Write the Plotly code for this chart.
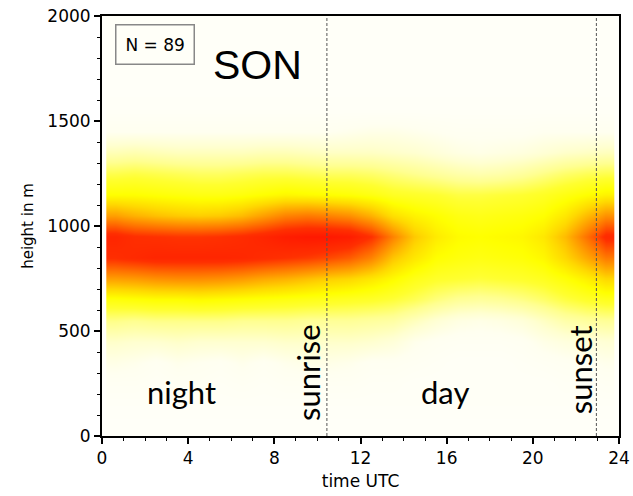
import numpy as np
import plotly.graph_objects as go

# Hourly time bins (UTC) and 100 m height bins
time_edges = [0.2] + list(range(1, 24)) + [23.8]
height_edges = list(range(0, 2001, 100))

# Occurrence density per height bin (rows, low to high), one value per hour 0..23
dens_50 = [0.0] * 24
dens_150 = [0.1] * 24
dens_250 = [0.3, 0.3, 0.2, 0.3, 0.3, 0.2, 0.3, 0.2, 0.3, 0.3, 0.3, 0.3, 0.2, 0.2, 0.1, 0.1, 0.1, 0.1, 0.1, 0.1, 0.1, 0.2, 0.2, 0.3]
dens_350 = [0.7, 0.6, 0.4, 0.6, 0.5, 0.4, 0.6, 0.4, 0.6, 0.7, 0.7, 0.6, 0.4, 0.4, 0.3, 0.2, 0.1, 0.1, 0.1, 0.2, 0.3, 0.4, 0.5, 0.6]
dens_450 = [1.3, 1.2, 1.2, 1.3, 1.2, 1.2, 1.2, 1.2, 1.3, 1.3, 1.3, 1.3, 1.2, 1.0, 0.6, 0.4, 0.3, 0.3, 0.3, 0.4, 0.7, 0.9, 1.0, 1.1]
dens_550 = [2.3, 2.2, 2.3, 2.3, 2.3, 2.3, 2.2, 2.2, 2.2, 2.1, 2.1, 2.1, 2.0, 1.9, 1.5, 1.1, 0.8, 0.7, 0.8, 1.0, 1.4, 1.8, 2.0, 2.1]
dens_650 = [3.8, 3.9, 4.0, 4.0, 4.1, 4.0, 3.9, 3.8, 3.7, 3.6, 3.5, 3.4, 3.3, 3.1, 2.8, 2.4, 2.1, 2.0, 2.1, 2.3, 2.6, 3.0, 3.3, 3.5]
dens_750 = [6.2, 6.3, 6.5, 6.6, 6.6, 6.5, 6.3, 6.0, 5.8, 5.5, 5.2, 5.0, 4.6, 4.1, 3.6, 3.3, 3.2, 3.1, 3.2, 3.3, 3.5, 3.9, 4.4, 5.0]
dens_850 = [8.6, 8.8, 9.0, 9.0, 9.0, 9.0, 8.9, 8.7, 8.5, 8.3, 8.0, 7.6, 6.8, 5.4, 4.6, 4.0, 3.8, 3.7, 3.8, 3.9, 4.2, 5.0, 6.0, 7.0]
dens_950 = [9.0, 8.6, 8.5, 8.4, 8.4, 8.5, 8.7, 9.0, 9.4, 9.6, 9.6, 9.4, 8.5, 6.8, 5.3, 4.5, 4.1, 4.0, 4.1, 4.2, 4.6, 5.6, 7.2, 8.8]
dens_1050 = [6.2, 5.8, 5.5, 5.3, 5.2, 5.3, 5.6, 6.2, 6.8, 7.0, 6.8, 6.5, 5.8, 4.8, 4.3, 4.0, 3.7, 3.6, 3.7, 3.8, 4.0, 4.6, 5.6, 6.5]
dens_1150 = [4.0, 4.0, 3.9, 3.8, 3.7, 3.7, 3.8, 4.0, 4.2, 4.1, 4.0, 3.9, 3.7, 3.4, 3.3, 3.2, 3.0, 3.0, 3.1, 3.2, 3.4, 3.7, 4.0, 4.3]
dens_1250 = [2.9, 3.0, 2.9, 2.8, 2.7, 2.7, 2.8, 2.9, 2.9, 2.8, 2.7, 2.7, 2.6, 2.4, 2.2, 2.0, 1.8, 1.7, 1.8, 2.0, 2.3, 2.6, 2.8, 2.9]
dens_1350 = [1.6, 1.7, 1.6, 1.5, 1.5, 1.5, 1.5, 1.6, 1.6, 1.5, 1.4, 1.4, 1.4, 1.3, 1.2, 1.0, 0.8, 0.7, 0.8, 0.9, 1.1, 1.3, 1.4, 1.5]
dens_1450 = [0.5, 0.5, 0.5, 0.5, 0.5, 0.5, 0.5, 0.5, 0.5, 0.5, 0.5, 0.6, 0.7, 0.7, 0.6, 0.5, 0.4, 0.4, 0.4, 0.4, 0.5, 0.5, 0.5, 0.5]
dens_1550 = [0.1] * 24
dens_1650 = [0.0] * 24
dens_1750 = [0.0] * 24
dens_1850 = [0.0] * 24
dens_1950 = [0.0] * 24

z = np.array([
    dens_50, dens_150, dens_250, dens_350, dens_450, dens_550, dens_650,
    dens_750, dens_850, dens_950, dens_1050, dens_1150, dens_1250, dens_1350,
    dens_1450, dens_1550, dens_1650, dens_1750, dens_1850, dens_1950,
])

sunrise = 10.44
sunset = 22.95
n_days = 89
season = "SON"

colorscale = [
    [0.00, "#fffff8"],
    [0.05, "#fffff0"],
    [0.12, "#ffffd0"],
    [0.22, "#ffff90"],
    [0.32, "#ffff30"],
    [0.40, "#ffff00"],
    [0.50, "#ffd800"],
    [0.60, "#ffa800"],
    [0.72, "#ff7000"],
    [0.85, "#ff3000"],
    [1.00, "#ff1000"],
]

fig = go.Figure(go.Heatmap(
    x=time_edges, y=height_edges, z=z,
    zmin=0, zmax=10, zsmooth="best",
    colorscale=colorscale, showscale=False, hoverinfo="skip",
))

for t in (sunrise, sunset):
    fig.add_shape(type="line", x0=t, x1=t, y0=0, y1=1, xref="x", yref="paper",
                  line=dict(color="#555555", width=1, dash="3px,2px"))

label_font = dict(family="Lato, Open Sans, sans-serif", size=31, color="black")
fig.add_annotation(x=3.7, y=210, text="night", showarrow=False, font=label_font)
fig.add_annotation(x=15.9, y=210, text="day", showarrow=False, font=label_font)
fig.add_annotation(x=9.56, y=305, text="sunrise", showarrow=False, font=label_font, textangle=-90)
fig.add_annotation(x=22.2, y=314, text="sunset", showarrow=False, font=label_font, textangle=-90)
fig.add_annotation(x=7.2, y=1767, text=season, showarrow=False,
                   font=dict(family="Liberation Sans, Arial, sans-serif", size=41, color="black"))
fig.add_annotation(x=2.47, y=1862, text=f"N = {n_days}", showarrow=False,
                   font=dict(family="DejaVu Sans", size=17, color="black"),
                   bordercolor="#888888", borderwidth=1.5, borderpad=9, bgcolor="rgba(0,0,0,0)")

axis_font = dict(family="DejaVu Sans", size=17, color="black")
fig.update_xaxes(
    range=[0, 24], tickmode="array", tickvals=[0, 4, 8, 12, 16, 20, 24],
    ticks="outside", ticklen=6, tickwidth=1.5, tickcolor="black",
    minor=dict(dtick=1, ticks="outside", ticklen=3, tickcolor="black", tickwidth=1),
    showline=True, linecolor="black", linewidth=2, mirror=True,
    showgrid=False, zeroline=False, tickfont=axis_font, automargin=False,
    title=dict(text="time UTC", font=axis_font, standoff=8),
)
fig.update_yaxes(
    range=[0, 2000], tickmode="array", tickvals=[0, 500, 1000, 1500, 2000],
    ticks="outside", ticklen=6, tickwidth=1.5, tickcolor="black",
    minor=dict(dtick=100, ticks="outside", ticklen=3, tickcolor="black", tickwidth=1),
    showline=True, linecolor="black", linewidth=2, mirror=True,
    showgrid=False, zeroline=False, tickfont=axis_font, automargin=False,
    title=dict(text="height in m", font=dict(family="DejaVu Sans", size=15, color="black"), standoff=10),
)

fig.update_layout(
    width=633, height=496,
    margin=dict(l=102, r=14, t=16, b=60),
    paper_bgcolor="white", plot_bgcolor="#fffffa",
    showlegend=False,
)

fig.write_html("out.html")
